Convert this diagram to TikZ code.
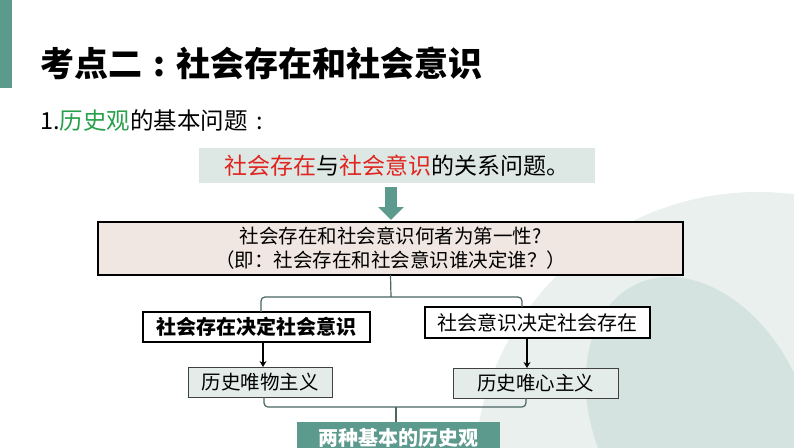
\documentclass[tikz,border=0pt]{standalone}
\usepackage{fontspec}
\setmainfont{Noto Sans CJK SC}
\usetikzlibrary{arrows.meta}
\definecolor{cteal}{RGB}{92,154,142}
\definecolor{clight}{RGB}{233,240,238}
\definecolor{cdark}{RGB}{213,227,224}
\definecolor{cgraybox}{RGB}{221,232,229}
\definecolor{cpink}{RGB}{241,231,226}
\definecolor{clow}{RGB}{228,236,234}
\definecolor{cbracket}{RGB}{74,102,98}
\definecolor{cgreen}{RGB}{40,160,76}
\definecolor{cred}{RGB}{224,36,31}
\tikzset{
  plain/.style={inner sep=0pt, outer sep=0pt},
  boldbox/.style={plain, draw=black, line width=2.2pt, fill=white},
  lowbox/.style={plain, draw=black!75, line width=0.9pt, fill=clow},
  bracket/.style={draw=cbracket, line width=1.2pt, rounded corners=4pt},
  smallarrow/.style={draw=black, line width=1.8pt, -{Stealth[length=6pt,width=7pt]}},
  txt/.style={font=\fontsize{19.5}{24}\selectfont}
}
\begin{document}
\begin{tikzpicture}[x=1pt,y=-1pt]
\useasboundingbox (0,0) rectangle (794,447);
% background decoration
\begin{scope}
  \clip (0,0) rectangle (794,447);
  \fill[clight] (758,476) circle [radius=284];
  \fill[cdark, rotate around={25:(700,420)}] (700,420) ellipse [x radius=105, y radius=150];
\end{scope}
% left bar
\fill[cteal] (0,0) rectangle (12,88);
% title
\node[plain, anchor=west, font=\bfseries\fontsize{34}{40}\selectfont] (title) at (40,63) {考点二\makebox[1em][c]{:}社会存在和社会意识};
\node[plain, anchor=west, font=\fontsize{23.5}{28}\selectfont] (sub) at (40,121) {1.\textcolor{cgreen}{历史观}的基本问题\makebox[1em][c]{:}};
% question box
\node[plain, fill=cgraybox, minimum width=396pt, minimum height=35pt, font=\fontsize{23}{28}\selectfont] (q) at (397,165.5)
  {\textcolor{cred}{社会存在}与\textcolor{cred}{社会意识}的关系问题。};
% big box
\node[plain, draw=black, line width=1.4pt, fill=cpink, minimum width=585pt, minimum height=53pt, align=center, txt] (big) at (390.5,248.5)
  {社会存在和社会意识何者为第一性?\\（即：社会存在和社会意识谁决定谁？）};
% big arrow
\draw[cteal, line width=12pt, -{Triangle[width=25pt,length=13pt]}] ([xshift=-6pt,yshift=-4pt]q.south) -- ([xshift=0.5pt,yshift=2pt]big.north);
% second level
\node[boldbox, minimum width=227pt, minimum height=30pt, font=\bfseries\fontsize{20}{24}\selectfont] (L) at (256.5,327) {社会存在决定社会意识};
\node[boldbox, minimum width=225pt, minimum height=31pt, font=\fontsize{20}{24}\selectfont] (R) at (537.5,322.5) {社会意识决定社会存在};
\coordinate (bj) at (391,297);
\draw[bracket] (big.south) -- (bj);
\draw[bracket] ([xshift=4.5pt]L.north) |- (bj) -| ([xshift=-15.5pt]R.north);
% third level
\node[lowbox, minimum width=144pt, minimum height=30pt, txt] (LL) at (260,382) {历史唯物主义};
\node[lowbox, minimum width=165pt, minimum height=30pt, txt] (RL) at (535.5,383) {历史唯心主义};
\draw[smallarrow] ([xshift=6.5pt]L.south) -- ([xshift=3pt]LL.north);
\draw[smallarrow] ([xshift=-10.5pt]R.south) -- ([xshift=-8.5pt]RL.north);
% bottom
\node[plain, fill=cteal, minimum width=203pt, minimum height=32pt, text=white, font=\bfseries\fontsize{20}{24}\selectfont] (T) at (398.5,438) {两种基本的历史观};
\coordinate (bk) at (396,407);
\draw[bracket] ([xshift=4pt]LL.south) |- (bk) -| ([xshift=-9.5pt]RL.south);
\draw[bracket] (bk) -- (bk |- T.north);
\end{tikzpicture}
\end{document}
